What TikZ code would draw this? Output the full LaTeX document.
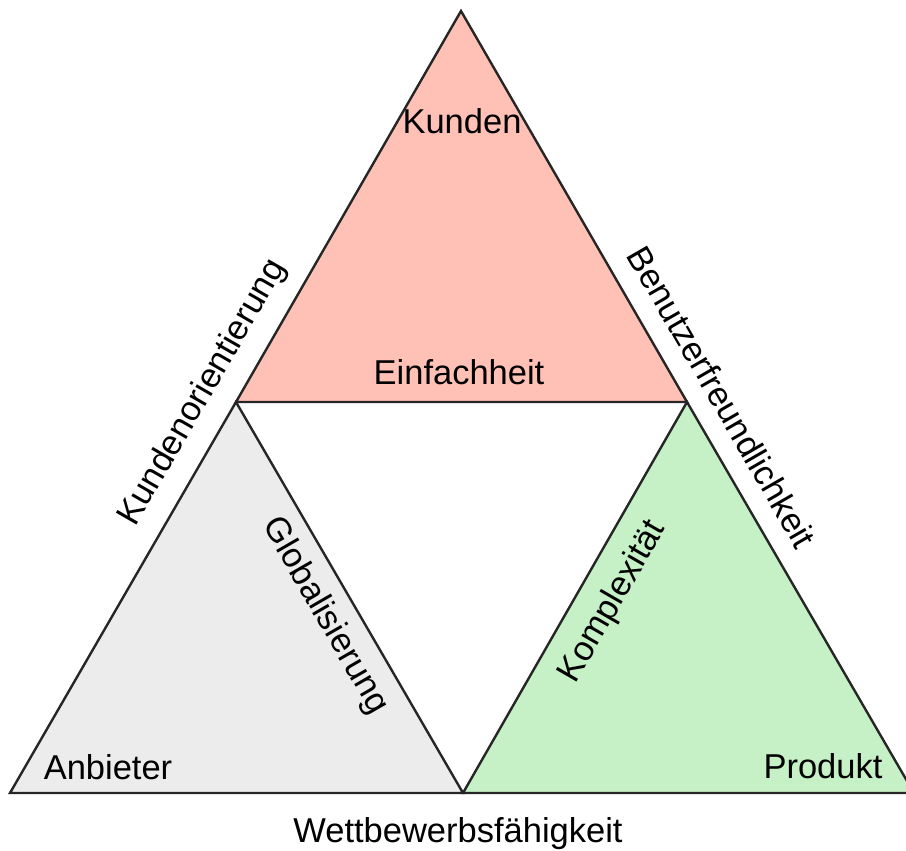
\documentclass[tikz,border=0pt]{standalone}
\usepackage{fontspec}
\setmainfont{Liberation Sans}
\begin{document}
\begin{tikzpicture}[x=1pt,y=-1pt,
  tri/.style={draw=black!85,line width=2.4pt,line join=miter},
  lbl/.style={inner sep=0pt,font=\fontsize{34.5}{38}\selectfont},
  ]
\definecolor{pinkfill}{RGB}{255,193,182}
\definecolor{grayfill}{RGB}{236,236,236}
\definecolor{greenfill}{RGB}{198,240,198}
\useasboundingbox (0,0) rectangle (906,851);
\begin{scope}
\clip (0,0) rectangle (906,851);
% corner points of the three triangles
\coordinate (top) at (461,11);
\coordinate (ml) at (236,402);
\coordinate (mr) at (687,402);
\coordinate (bl) at (10,793);
\coordinate (bm) at (463,793);
\coordinate (br) at (914,793);
\draw[tri,fill=pinkfill] (top) -- (mr) -- (ml) -- cycle;
\draw[tri,fill=grayfill] (ml) -- (bm) -- (bl) -- cycle;
\draw[tri,fill=greenfill] (mr) -- (br) -- (bm) -- cycle;
\end{scope}
% labels inside the triangles
\node[lbl] (kunden) at (462,121) {Kunden};
\node[lbl] (einfach) at (459,372) {Einfachheit};
\node[lbl] (anbieter) at (108,767) {Anbieter};
\node[lbl] (produkt) at (823,766) {Produkt};
\node[lbl,rotate=-60] (global) at (325,616) {Globalisierung};
\node[lbl,rotate=60] (komplex) at (613,602) {Komplexität};
% labels along the outer edges
\node[lbl,rotate=60] (kundenor) at (203,393) {Kundenorientierung};
\node[lbl,rotate=-60] (benutzer) at (722,397) {Benutzerfreundlichkeit};
\node[lbl] (wettbewerb) at (458,834) {Wettbewerbsfähigkeit};
\end{tikzpicture}
\end{document}
